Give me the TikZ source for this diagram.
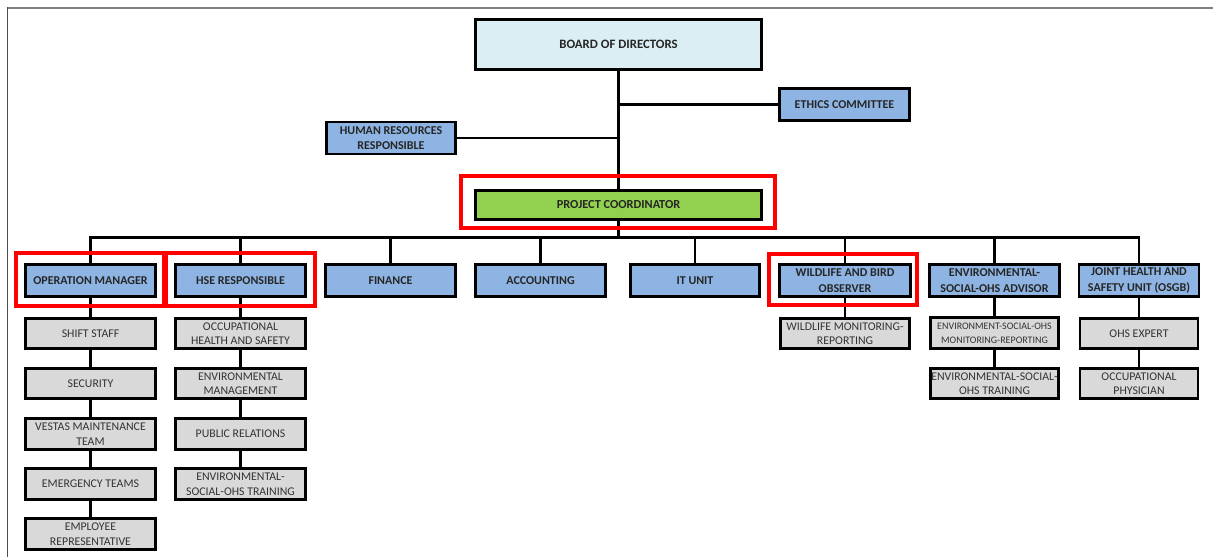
\documentclass[tikz,border=0pt]{standalone}
\usepackage{fontspec}
\setmainfont{Carlito}
\definecolor{boardblue}{HTML}{DBEEF4}
\definecolor{unitblue}{HTML}{8DB4E2}
\definecolor{staffgray}{HTML}{D9D9D9}
\definecolor{coordgreen}{HTML}{92D050}
\begin{document}
\begin{tikzpicture}[x=1pt,y=-1pt,
  box/.style={draw=black,line width=2.8pt,inner sep=0.5pt,align=center,minimum width=130pt,minimum height=32pt},
  unitbox/.style={box,fill=unitblue,font=\fontsize{12}{15.5}\selectfont\bfseries,text=black!85},
  staffbox/.style={box,fill=staffgray,minimum height=30.5pt,font=\fontsize{11.8}{14.5}\selectfont,text=black!80},
  markbox/.style={draw=red,line width=3.5pt},
  link/.style={draw=black,line width=2.6pt}]
%\draw [help lines,step=50] (0,0) grid (1214,557);
\useasboundingbox (0,0) rectangle (1214,557);
\draw [gray,line width=2pt] (7,7.5) -- (1213,7.5);
\draw [black!70,line width=1.5pt] (7.5,7) -- (7.5,557);

\node [box,fill=boardblue,minimum width=286pt,minimum height=50pt,font=\fontsize{12.8}{15.5}\selectfont\bfseries,text=black!85] (board) at (618.5,44.5) {BOARD OF DIRECTORS};
\node [unitbox] (ethics) at (844.5,104.5) {ETHICS COMMITTEE};
\node [unitbox,minimum width=129pt] (hr) at (391,138) {HUMAN RESOURCES\\RESPONSIBLE};
\node [box,fill=coordgreen,minimum width=286pt,minimum height=29pt,font=\fontsize{12.3}{15.5}\selectfont\bfseries,text=black!85] (pc) at (618.5,205) {PROJECT COORDINATOR};

\node [unitbox] (op) at (90.5,280.5) {OPERATION MANAGER};
\node [unitbox] (hse) at (240.5,280.5) {HSE RESPONSIBLE};
\node [unitbox] (fin) at (390.5,280.5) {FINANCE};
\node [unitbox] (acc) at (540.5,280.5) {ACCOUNTING};
\node [unitbox,minimum width=129pt] (it) at (695,280.5) {IT UNIT};
\node [unitbox,minimum width=131pt] (wild) at (845,280.5) {WILDLIFE AND BIRD\\OBSERVER};
\node [unitbox] (env) at (994.5,280.5) {ENVIRONMENTAL-\\SOCIAL-OHS ADVISOR};
\node [unitbox,minimum width=120pt] (joint) at (1139,280.5) {JOINT HEALTH AND\\SAFETY UNIT (OSGB)};

\node [staffbox] (shift) at (90.5,333.5) {SHIFT STAFF};
\node [staffbox] (sec) at (90.5,383.5) {SECURITY};
\node [staffbox] (vestas) at (90.5,434) {VESTAS MAINTENANCE\\TEAM};
\node [staffbox] (emerg) at (90.5,484) {EMERGENCY TEAMS};
\node [staffbox] (employee) at (90.5,534) {EMPLOYEE\\REPRESENTATIVE};

\node [staffbox] (ohs) at (240.5,333.5) {OCCUPATIONAL\\HEALTH AND SAFETY};
\node [staffbox] (envman) at (240.5,383.5) {ENVIRONMENTAL\\MANAGEMENT};
\node [staffbox] (public) at (240.5,434) {PUBLIC RELATIONS};
\node [staffbox] (hsetrain) at (240.5,484) {ENVIRONMENTAL-\\SOCIAL-OHS TRAINING};

\node [staffbox,minimum width=129pt] (wildmon) at (845,333.5) {WILDLIFE MONITORING-\\REPORTING};
\node [staffbox,minimum width=128pt,font=\fontsize{10}{14}\selectfont] (envmon) at (994.5,333) {ENVIRONMENT-SOCIAL-OHS\\MONITORING-REPORTING};
\node [staffbox,minimum width=128pt] (envtrain) at (994.5,383.5) {ENVIRONMENTAL-SOCIAL-\\OHS TRAINING};
\node [staffbox,minimum width=118pt] (expert) at (1139,333.5) {OHS EXPERT};
\node [staffbox,minimum width=118pt] (physician) at (1139,383.5) {OCCUPATIONAL\\PHYSICIAN};

\coordinate (bus) at (618.5,237.5);
\draw [link] (board) -- (pc);
\draw [link] (ethics.west) -- (ethics.west -| board.south);
\draw [link] (hr.east) -- (hr.east -| board.south);
\draw [link] (pc) -- (bus);
\foreach \unit in {op,hse,fin,acc,it,wild,env,joint}
  \draw [link] (\unit.north) |- (bus);
\draw [link] (op) -- (shift) -- (sec) -- (vestas) -- (emerg) -- (employee);
\draw [link] (hse) -- (ohs) -- (envman) -- (public) -- (hsetrain);
\draw [link] (wild) -- (wildmon);
\draw [link] (env) -- (envmon) -- (envtrain);
\draw [link] (joint) -- (expert) -- (physician);

\draw [markbox] (461,176) rectangle (775,228);
\draw [markbox] (16,253) rectangle (164,306);
\draw [markbox] (166,253) rectangle (315,306);
\draw [markbox] (769,254) rectangle (917,305);
\end{tikzpicture}
\end{document}
